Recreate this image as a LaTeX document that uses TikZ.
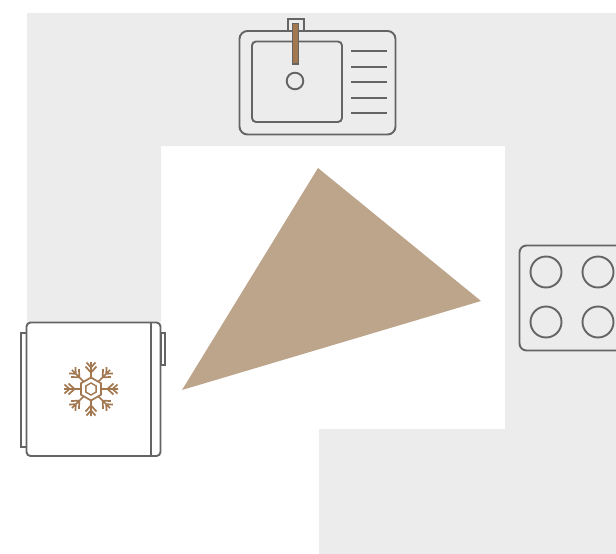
\documentclass[tikz,border=0pt]{standalone}
\usepackage{xcolor}
\definecolor{planfloor}{RGB}{236,236,236}
\definecolor{planline}{RGB}{100,100,100}
\definecolor{plantan}{RGB}{189,165,140}
\definecolor{planbrown}{RGB}{163,120,80}
\tikzset{
  fixture/.style={draw=planline, line width=1.9pt},
  trim/.style={draw=planline, line width=2.3pt},
  flake/.style={draw=planbrown, line width=1.7pt},
}
\begin{document}
\begin{tikzpicture}[x=1pt,y=-1pt]
\useasboundingbox (0,0) rectangle (616,554);
% floor
\fill[planfloor] (27,13) -- (616,13) -- (616,554) -- (319,554) -- (319,429) -- (505,429)
  -- (505,146) -- (161,146) -- (161,322) -- (27,322) -- cycle;
% work triangle
\fill[plantan] (318,168) -- (481,301) -- (182,390) -- cycle;
% sink
\draw[trim] (288,19) rectangle (304,31);
\draw[fixture, rounded corners=8pt] (239.5,31) rectangle (395.5,134.5);
\draw[fixture, rounded corners=4pt] (252,41.5) rectangle (342,122);
\draw[fixture] (295,81) circle (8.3);
\foreach \y in {51,67,82,98,113}
  \draw[fixture] (351,\y) -- (387,\y);
\draw[fixture, fill=planbrown] (292.5,23.5) rectangle (298.5,64);
% hob
\draw[fixture, rounded corners=7pt] (630,245.5) -- (519.5,245.5) -- (519.5,350.5) -- (630,350.5);
\foreach \x in {546,598}
  \foreach \y in {272,322}
    \draw[fixture] (\x,\y) circle (15.5);
% fridge
\draw[trim, fill=white] (21,333) rectangle (27,447);
\draw[trim, fill=white] (161,333) rectangle (165,365);
\draw[fixture, fill=white, rounded corners=4pt] (26.5,322.5) rectangle (160.5,456);
\draw[trim] (151,322.5) -- (151,456);
% snowflake
\begin{scope}[shift={(91,389)}]
\draw[flake] (90:11.5) -- (30:11.5) -- (-30:11.5) -- (-90:11.5) -- (-150:11.5) -- (150:11.5) -- cycle;
\draw[flake, line width=1.4pt] (90:6) -- (30:6) -- (-30:6) -- (-90:6) -- (-150:6) -- (150:6) -- cycle;
\foreach \a in {0,45,...,315}
  \draw[flake, rotate=\a] (10.5,0) -- (27,0)
    (22.5,-5.5) -- (16.5,0) -- (22.5,5.5)
    (26.5,-4.5) -- (21.5,0) -- (26.5,4.5);
\end{scope}
\end{tikzpicture}
\end{document}
